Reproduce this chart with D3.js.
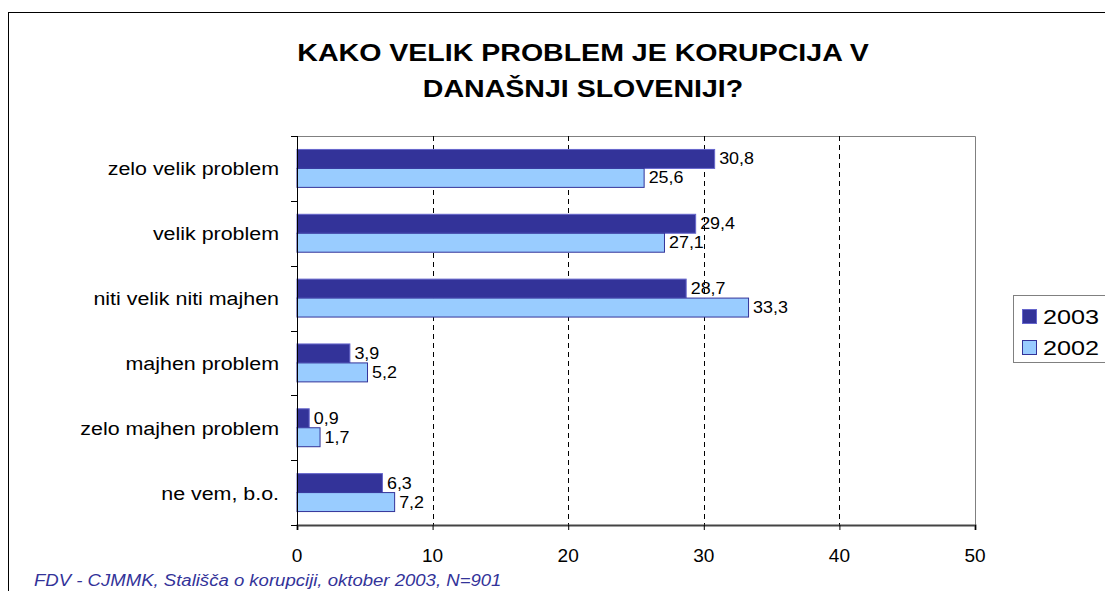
<!DOCTYPE html>
<html><head><meta charset="utf-8">
<script src="https://cdn.jsdelivr.net/npm/d3@7"></script>
<style>body{margin:0;background:#fff}svg{display:block;font-family:"Liberation Sans",Arial,sans-serif}</style>
</head><body><svg id="c" width="1105" height="591"></svg>
<script>
const categories = ["zelo velik problem","velik problem","niti velik niti majhen","majhen problem","zelo majhen problem","ne vem, b.o."];
const values2003 = [30.8,29.4,28.7,3.9,0.9,6.3];
const values2002 = [25.6,27.1,33.3,5.2,1.7,7.2];
const seriesNames = ["2003","2002"];
const xTicks = [0,10,20,30,40,50];
const titleLines = ["KAKO VELIK PROBLEM JE KORUPCIJA V","DANAŠNJI SLOVENIJI?"];
const footnote = "FDV - CJMMK, Stališča o korupciji, oktober 2003, N=901";

const svg = d3.select("#c");
const colors = ["#333399","#99ccff"];
const strokes = ["#6666cc","#333399"];
const L=297,R=975,T=136,B=525;
svg.append("rect").attr("x",8.5).attr("y",12.5).attr("width",1110).attr("height",600).attr("fill","#fff").attr("stroke","#000");

function stext(g, ax, ay, sx, txt){
  return g.append("text").attr("transform",`translate(${ax},${ay}) scale(${sx},1)`).text(txt);
}

const x = d3.scaleLinear().domain([0,50]).range([L,R]);
const y = d3.scaleBand().domain(categories).range([T,B]).paddingInner(0.415).paddingOuter(0.2075);
const ys = d3.scaleBand().domain(seriesNames).range([0,y.bandwidth()]);

// plot frame
svg.append("path").attr("d",`M${L},${T+0.5}H${R+0.5}V${B}`).attr("fill","none").attr("stroke","#808080");
// grid
svg.append("g").selectAll("line").data(xTicks.filter(d=>d>0&&d<50)).join("line")
  .attr("x1",d=>Math.round(x(d))+0.5).attr("x2",d=>Math.round(x(d))+0.5).attr("y1",T).attr("y2",B)
  .attr("stroke","#000").attr("stroke-dasharray","5,4");

const data = [values2003, values2002];
seriesNames.forEach((s,si)=>{
  const g = svg.append("g");
  g.selectAll("rect").data(categories).join("rect")
    .attr("x",L).attr("y",c=>y(c)+ys(s)).attr("width",(c,i)=>x(data[si][i])-L).attr("height",ys.bandwidth())
    .attr("fill",colors[si]).attr("stroke",strokes[si]).attr("stroke-width",1);
  const tg = g.append("g").attr("font-size",16).attr("fill","#000");
  categories.forEach((c,i)=>{
    stext(tg, x(data[si][i])+4.5, y(c)+ys(s)+ys.bandwidth()/2+5.5, 1.12, String(data[si][i]).replace(".",","));
  });
});

// x axis
const xa = svg.append("g").attr("transform",`translate(0,${B})`)
  .call(d3.axisBottom(x).tickValues(xTicks).tickSize(5).tickFormat(""));
xa.select(".domain").attr("stroke","#444").attr("stroke-width",2);
xa.selectAll(".tick line").attr("stroke","#000");
const xt = svg.append("g").attr("font-size",18.5).attr("text-anchor","middle").attr("fill","#000");
xTicks.forEach(t=>stext(xt, x(t), 562, 1.03, String(t)));

// y axis line + ticks at band boundaries
svg.append("line").attr("x1",L+0.5).attr("x2",L+0.5).attr("y1",T).attr("y2",B).attr("stroke","#000");
const bounds = d3.range(categories.length+1).map(i=>T+(B-T)*i/categories.length);
svg.append("g").selectAll("line").data(bounds).join("line")
  .attr("x1",L-6).attr("x2",L).attr("y1",d=>Math.round(d)+0.5).attr("y2",d=>Math.round(d)+0.5).attr("stroke","#000");
const cg = svg.append("g").attr("font-size",18).attr("text-anchor","end").attr("fill","#000");
categories.forEach(c=>stext(cg, 279, y(c)+y.bandwidth()/2+7, 1.19, c));

// title
const tg2 = svg.append("g").attr("font-size",24).attr("font-weight","bold").attr("text-anchor","middle").attr("fill","#000");
titleLines.forEach((t,i)=>stext(tg2, 583, 61+i*35.5, 1.19, t));

// legend
const lg = svg.append("g");
lg.append("rect").attr("x",1013.5).attr("y",295.5).attr("width",110).attr("height",67).attr("fill","#fff").attr("stroke","#808080");
const lt = lg.append("g").attr("font-size",21).attr("fill","#000");
seriesNames.forEach((s,i)=>{
  lg.append("rect").attr("x",1022.5).attr("y",309.5+i*31).attr("width",14).attr("height",14)
    .attr("fill",colors[i]).attr("stroke",strokes[i]);
  stext(lt, 1043, 324+i*31, 1.2, s);
});

// footnote
const fg = svg.append("g").attr("font-size",16).attr("font-style","italic").attr("fill","#333399");
stext(fg, 34, 586, 1.16, footnote);
</script></body></html>
